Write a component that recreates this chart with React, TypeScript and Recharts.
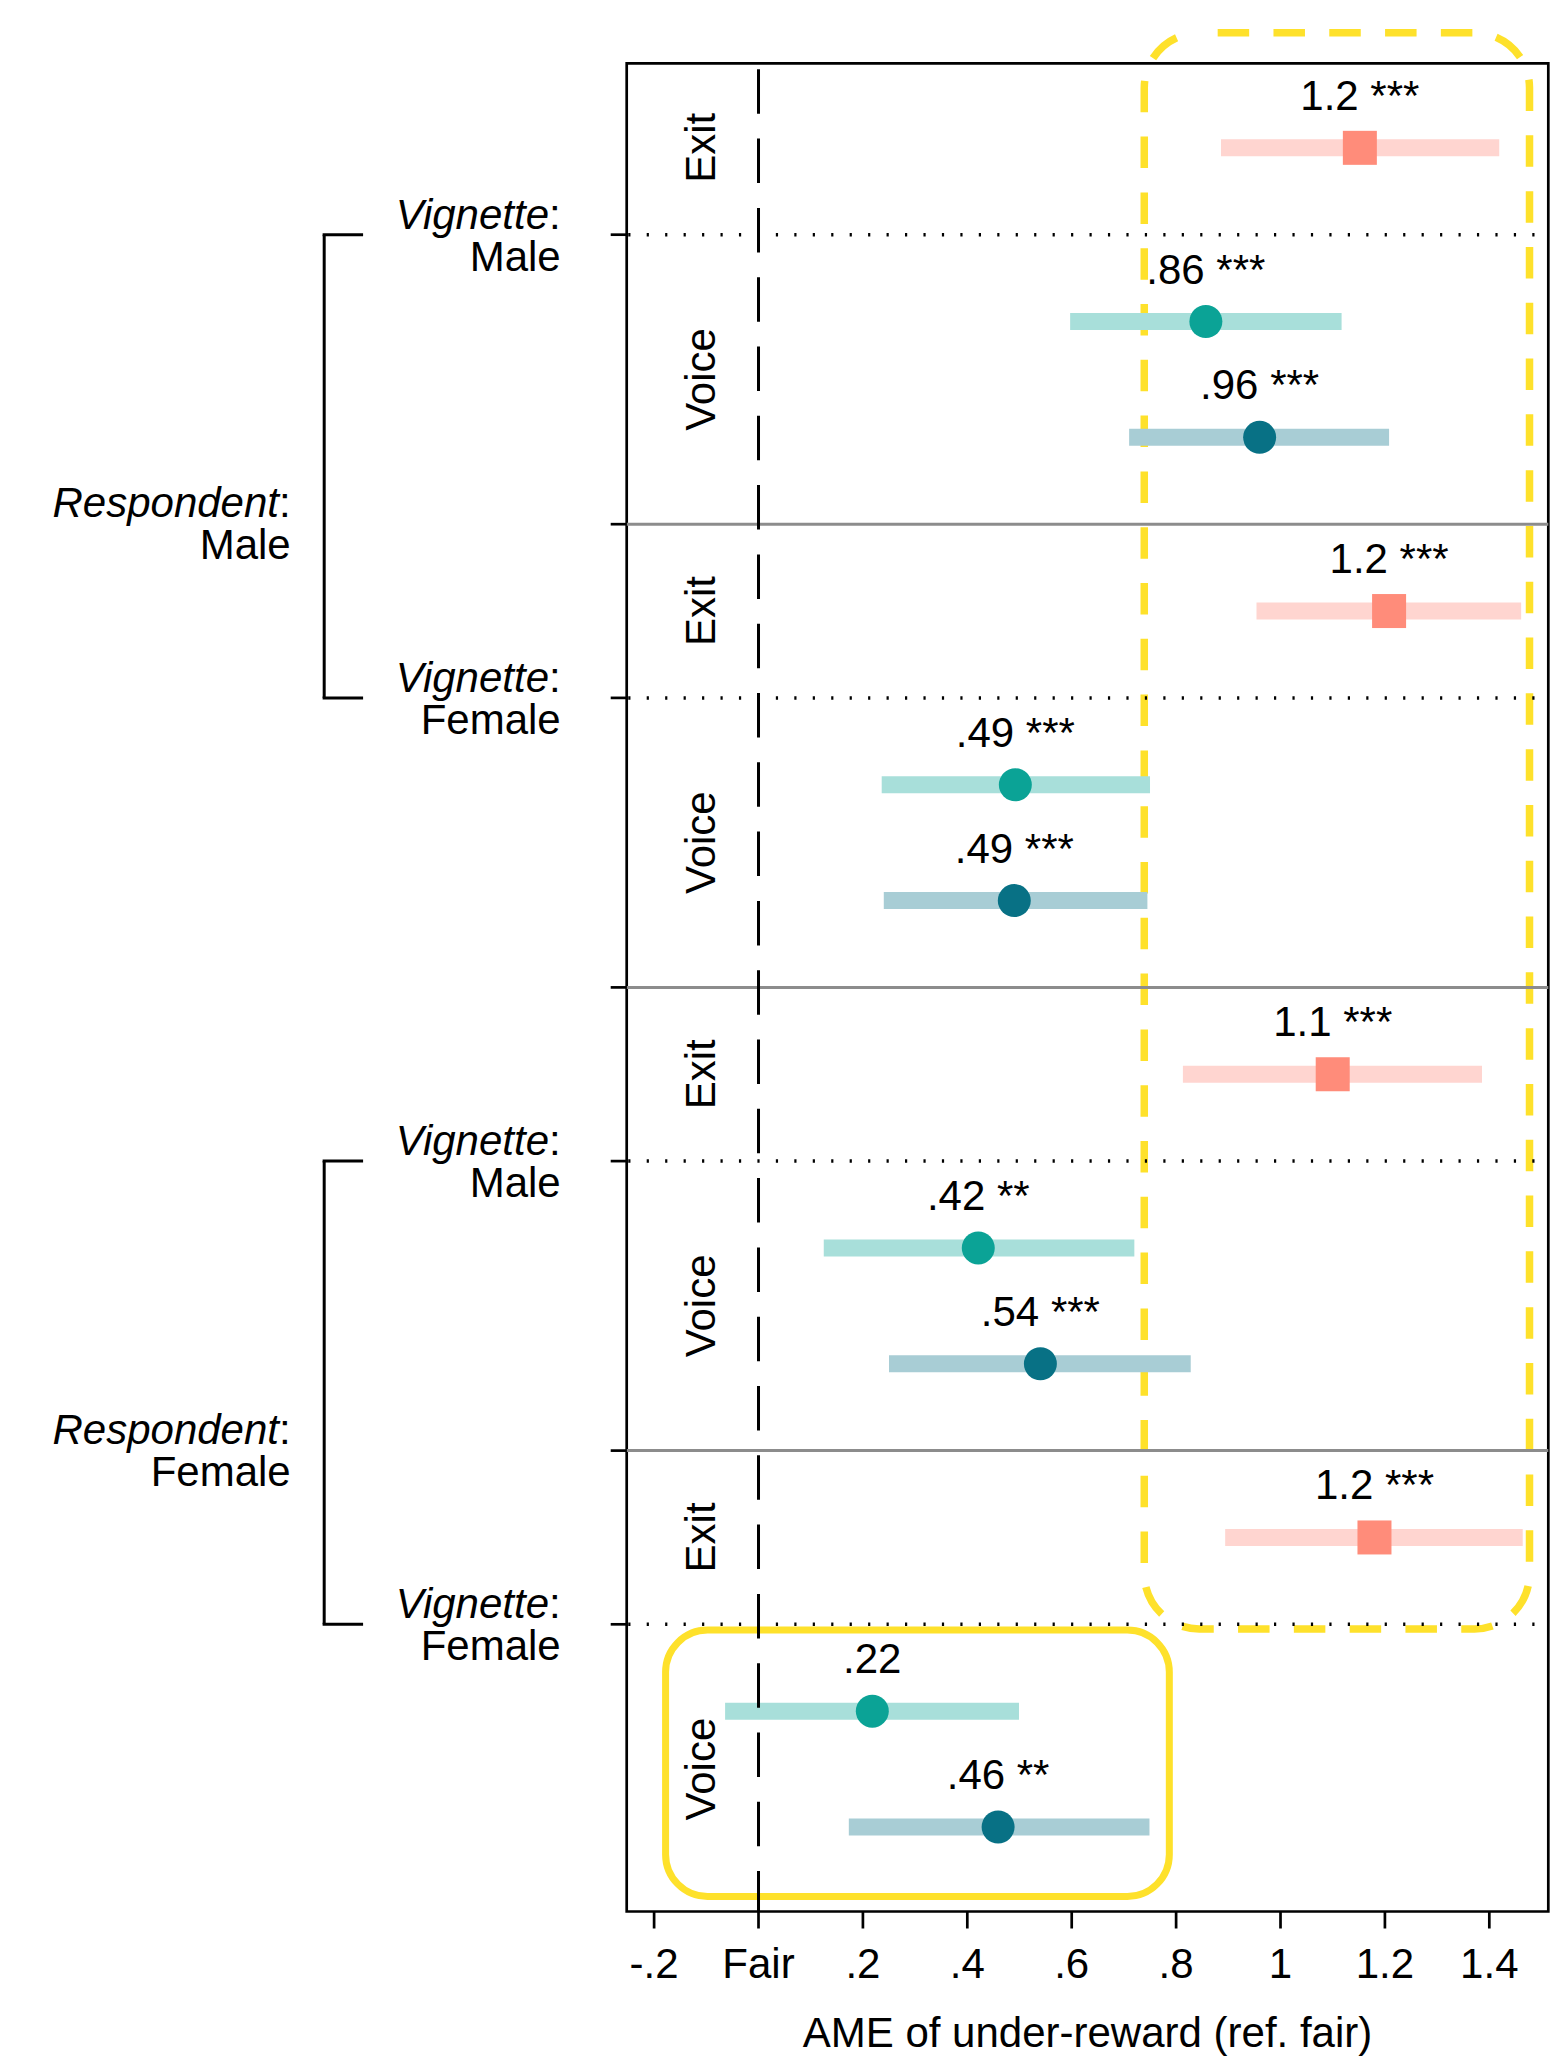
import React from "react";
import {
  ScatterChart,
  Scatter,
  XAxis,
  YAxis,
  ErrorBar,
  ReferenceLine,
  ReferenceArea,
  ReferenceDot,
} from "recharts";

// row positions on the y axis (0 = top row)
const exitRows = [0, 4, 8, 12];
const voiceARows = [1.5, 5.5, 9.5, 13.5];
const voiceBRows = [2.5, 6.5, 10.5, 14.5];
const voiceLabelRows = [2, 6, 10, 14];

// estimates + 95% CI
const exitEst = [1.152, 1.208, 1.1, 1.18];
const exitLo = [0.886, 0.954, 0.813, 0.894];
const exitHi = [1.419, 1.461, 1.386, 1.464];
const exitText = ["1.2 ***", "1.2 ***", "1.1 ***", "1.2 ***"];

const voiceAEst = [0.857, 0.492, 0.421, 0.218];
const voiceALo = [0.597, 0.236, 0.125, -0.064];
const voiceAHi = [1.117, 0.75, 0.72, 0.499];
const voiceAText = [".86 ***", ".49 ***", ".42 **", ".22"];

const voiceBEst = [0.96, 0.49, 0.54, 0.459];
const voiceBLo = [0.71, 0.24, 0.25, 0.173];
const voiceBHi = [1.208, 0.745, 0.828, 0.749];
const voiceBText = [".96 ***", ".49 ***", ".54 ***", ".46 **"];

const xTicks = [-0.2, 0, 0.2, 0.4, 0.6, 0.8, 1, 1.2, 1.4];
const xTickLabels = ["-.2", "Fair", ".2", ".4", ".6", ".8", "1", "1.2", "1.4"];

const vignetteTicks = [0.75, 4.75, 8.75, 12.75];
const vignetteNames = ["Male", "Female", "Male", "Female"];
const panelTicks = [3.25, 7.25, 11.25];
const respondentTicks = [3.25, 11.25];
const respondentNames = ["Male", "Female"];
const yTicks = [...vignetteTicks, ...panelTicks].sort((a, b) => a - b);

const brackets = [
  [0.75, 4.75],
  [8.75, 12.75],
];

const X_DOMAIN: [number, number] = [-0.2525, 1.513];
const Y_DOMAIN: [number, number] = [-0.73, 15.23];
const FONT = '"Liberation Sans", Arial, Helvetica, sans-serif';
const YELLOW = "#FEE12B";

const makeRows = (rows: number[], est: number[], lo: number[], hi: number[], text: string[]) =>
  rows.map((y, i) => ({ x: est[i], y, err: [est[i] - lo[i], hi[i] - est[i]], text: text[i] }));

const exitData = makeRows(exitRows, exitEst, exitLo, exitHi, exitText);
const voiceAData = makeRows(voiceARows, voiceAEst, voiceALo, voiceAHi, voiceAText);
const voiceBData = makeRows(voiceBRows, voiceBEst, voiceBLo, voiceBHi, voiceBText);

const pointLabel = (cx: number, cy: number, text: string) => (
  <text x={cx} y={cy - 38} textAnchor="middle" fontSize={42} fill="#000">
    {text}
  </text>
);

const squareShape = (fill: string) => (p: any) => (
  <g>
    <rect x={p.cx - 17} y={p.cy - 17} width={34} height={34} fill={fill} />
    {pointLabel(p.cx, p.cy, p.payload.text)}
  </g>
);

const circleShape = (fill: string) => (p: any) => (
  <g>
    <circle cx={p.cx} cy={p.cy} r={16.5} fill={fill} />
    {pointLabel(p.cx, p.cy, p.payload.text)}
  </g>
);

function YTick(props: any) {
  const { x, y, payload } = props;
  const v = payload.value;
  const vi = vignetteTicks.indexOf(v);
  const ri = respondentTicks.indexOf(v);
  return (
    <g fontSize={42} fill="#000">
      {vi >= 0 && (
        <>
          <text x={x} y={y - 6} textAnchor="end">
            <tspan fontStyle="italic">Vignette</tspan>:
          </text>
          <text x={x} y={y + 36} textAnchor="end">
            {vignetteNames[vi]}
          </text>
        </>
      )}
      {ri >= 0 && (
        <>
          <text x={x - 270} y={y - 7} textAnchor="end">
            <tspan fontStyle="italic">Respondent</tspan>:
          </text>
          <text x={x - 270} y={y + 35} textAnchor="end">
            {respondentNames[ri]}
          </text>
        </>
      )}
    </g>
  );
}

const groupText = (text: string) => (p: any) => (
  <text
    x={p.cx}
    y={p.cy}
    transform={`rotate(-90, ${p.cx}, ${p.cy})`}
    textAnchor="middle"
    fontSize={42}
    fill="#000"
  >
    {text}
  </text>
);

export default function App() {
  return (
    <div
      style={{
        position: "absolute",
        left: 0,
        top: 0,
        width: 1554,
        height: 2057,
        background: "#fff",
        fontFamily: FONT,
      }}
    >
      <ScatterChart width={1554} height={2057} margin={{ top: 63.3, right: 5.7, bottom: 0, left: 0 }}>
        <XAxis
          type="number"
          dataKey="x"
          domain={X_DOMAIN}
          allowDataOverflow
          ticks={xTicks}
          interval={0}
          tickFormatter={(v: number) => xTickLabels[xTicks.indexOf(v)]}
          height={145.5}
          axisLine={false}
          tickSize={17}
          tickMargin={19.8}
          tickLine={{ stroke: "#000", strokeWidth: 2.7 }}
          tick={{ fontSize: 42, fill: "#000" }}
          label={{
            value: "AME of under-reward (ref. fair)",
            position: "insideBottom",
            offset: 10,
            fontSize: 42,
            fill: "#000",
          }}
        />
        <YAxis
          type="number"
          dataKey="y"
          domain={Y_DOMAIN}
          reversed
          allowDataOverflow
          ticks={yTicks}
          interval={0}
          width={626.7}
          axisLine={false}
          tickSize={16}
          tickMargin={50}
          tickLine={{ stroke: "#000", strokeWidth: 2.7 }}
          tick={(p: any) => <YTick {...p} />}
        />

        {vignetteTicks.map((v) => (
          <ReferenceLine
            key={`dot-${v}`}
            segment={[
              { x: X_DOMAIN[0], y: v },
              { x: X_DOMAIN[1], y: v },
            ]}
            stroke="#000"
            strokeWidth={3.5}
            strokeDasharray="2.2 16.25"
            strokeDashoffset={16.9}
          />
        ))}
        {panelTicks.map((v) => (
          <ReferenceLine key={`sep-${v}`} y={v} stroke="#8c8c8c" strokeWidth={3} />
        ))}

        {brackets.map(([a, b], i) => (
          <React.Fragment key={`br-${i}`}>
            <ReferenceLine
              segment={[
                { x: -0.832, y: a },
                { x: -0.832, y: b },
              ]}
              stroke="#000"
              strokeWidth={3}
              ifOverflow="visible"
            />
            <ReferenceLine
              segment={[
                { x: -0.835, y: a },
                { x: -0.7575, y: a },
              ]}
              stroke="#000"
              strokeWidth={3}
              ifOverflow="visible"
            />
            <ReferenceLine
              segment={[
                { x: -0.835, y: b },
                { x: -0.7575, y: b },
              ]}
              stroke="#000"
              strokeWidth={3}
              ifOverflow="visible"
            />
          </React.Fragment>
        ))}

        {exitRows.map((r) => (
          <ReferenceDot key={`ex-${r}`} x={-0.083} y={r} r={1} shape={groupText("Exit")} />
        ))}
        {voiceLabelRows.map((r) => (
          <ReferenceDot key={`vo-${r}`} x={-0.083} y={r} r={1} shape={groupText("Voice")} />
        ))}

        <Scatter data={exitData} shape={squareShape("#FF8C7A")} isAnimationActive={false}>
          <ErrorBar dataKey="err" direction="x" width={0} strokeWidth={17} stroke="#FFD5D0" />
        </Scatter>
        <Scatter data={voiceAData} shape={circleShape("#0BA396")} isAnimationActive={false}>
          <ErrorBar dataKey="err" direction="x" width={0} strokeWidth={17} stroke="#A8DFDA" />
        </Scatter>
        <Scatter data={voiceBData} shape={circleShape("#087185")} isAnimationActive={false}>
          <ErrorBar dataKey="err" direction="x" width={0} strokeWidth={17} stroke="#A8CDD5" />
        </Scatter>

        <ReferenceArea
          x1={0.739}
          x2={1.477}
          y1={-0.993}
          y2={12.79}
          ifOverflow="visible"
          shape={(p: any) => (
            <rect
              x={p.x}
              y={p.y}
              width={p.width}
              height={p.height}
              rx={55}
              fill="none"
              stroke={YELLOW}
              strokeWidth={7.5}
              strokeDasharray="31.5 24.3"
              strokeDashoffset={37.4}
            />
          )}
        />
        <ReferenceArea
          x1={-0.178}
          x2={0.787}
          y1={12.8}
          y2={15.1}
          ifOverflow="visible"
          shape={(p: any) => (
            <rect
              x={p.x}
              y={p.y}
              width={p.width}
              height={p.height}
              rx={42}
              fill="none"
              stroke={YELLOW}
              strokeWidth={7}
            />
          )}
        />

        <ReferenceLine
          segment={[
            { x: 0, y: Y_DOMAIN[0] },
            { x: 0, y: Y_DOMAIN[1] },
          ]}
          stroke="#000"
          strokeWidth={3}
          strokeDasharray="44.5 24.8"
          strokeDashoffset={63.3}
        />

        <ReferenceArea
          x1={X_DOMAIN[0]}
          x2={X_DOMAIN[1]}
          y1={Y_DOMAIN[0]}
          y2={Y_DOMAIN[1]}
          ifOverflow="visible"
          fill="none"
          fillOpacity={0}
          stroke="#000"
          strokeWidth={2.7}
        />
      </ScatterChart>
    </div>
  );
}
